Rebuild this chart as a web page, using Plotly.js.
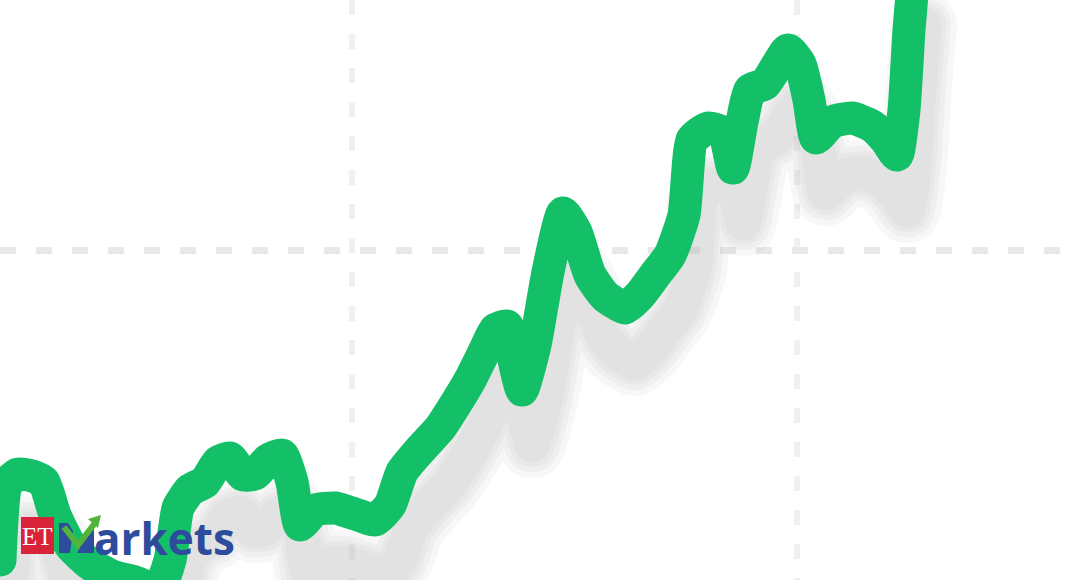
<!DOCTYPE html>
<html>
<head>
<meta charset="utf-8">
<script src="https://cdn.plot.ly/plotly-3.0.1.min.js"></script>
<style>
  html, body { margin: 0; padding: 0; background: #fff; overflow: hidden; }
  #chart { width: 1070px; height: 580px; }
  .scatterlayer path.js-line { stroke-linejoin: round; stroke-linecap: round; }
</style>
</head>
<body>
<div id="chart"></div>
<script>
// session position and price level
var sessions = [0, 6, 18, 32, 44, 55, 70, 90, 112, 135, 158, 170, 178, 190, 205, 218, 230, 243,
	255, 268, 282, 292, 300, 315, 335, 355, 375, 390, 402, 420, 440, 455, 470, 485, 495, 507,
	514, 522, 535, 548, 563, 576, 590, 605, 625, 640, 655, 670, 684, 692, 708, 724, 733, 742,
	750, 765, 788, 800, 809, 816, 832, 852, 872, 886, 897, 904, 909, 914];
var levels = [20, 95, 106, 104, 98, 65, 35, 16, 4, -2, -10, 20, 72, 90, 98, 118, 122, 105,
	106, 120, 125, 98, 55, 70, 72, 66, 60, 75, 108, 130, 152, 175, 200, 230, 250, 254,
	220, 190, 235, 308, 367, 348, 305, 284, 272, 285, 305, 325, 365, 440, 452, 447, 412, 458,
	490, 496, 530, 516, 480, 442, 458, 462, 454, 440, 425, 470, 550, 610];

// dashed guide lines
var gridSessions = [352, 797];
var gridLevels = [330];

var GREEN = '#13bf67';
var SHADOW_DX = 10, SHADOW_DY = 55;
var W = 1070, H = 580;

var traces = [];
// soft grey shadow on the main axes, whose range is shifted
[66, 54, 44, 35].forEach(function (w) {
	traces.push({
		x: sessions, y: levels,
		type: 'scatter', mode: 'lines', hoverinfo: 'skip',
		line: { color: 'rgba(180,180,180,0.1)', width: w, shape: 'spline', smoothing: 0.5 }
	});
});
// the price line itself on an overlay with the true range
traces.push({
	x: sessions, y: levels, xaxis: 'x2', yaxis: 'y2',
	type: 'scatter', mode: 'lines', hoverinfo: 'skip',
	line: { color: GREEN, width: 33, shape: 'spline', smoothing: 0.5 }
});

var hidden = { showgrid: false, zeroline: false, showline: false, showticklabels: false, ticks: '', fixedrange: true };

function px(x) { return x / W; }
function py(y) { return 1 - y / H; }
function path(pts, close) {
	var s = pts.map(function (p, i) { return (i ? 'L' : 'M') + px(p[0]) + ',' + py(p[1]); }).join(' ');
	return close ? s + ' Z' : s;
}

var layout = {
	width: W, height: H,
	margin: { t: 0, b: 0, l: 0, r: 0 },
	paper_bgcolor: '#ffffff',
	plot_bgcolor: '#ffffff',
	showlegend: false,
	xaxis: Object.assign({}, hidden, {
		range: [-SHADOW_DX, W - SHADOW_DX], showgrid: true, tickmode: 'array',
		tickvals: gridSessions.map(function (g) { return g - SHADOW_DX; }),
		gridcolor: '#f0f0f0', gridwidth: 6, griddash: '15px,19px'
	}),
	yaxis: Object.assign({}, hidden, {
		range: [SHADOW_DY, H + SHADOW_DY], showgrid: true, tickmode: 'array',
		tickvals: gridLevels.map(function (g) { return g + SHADOW_DY; }),
		gridcolor: '#e8e8e8', gridwidth: 7, griddash: '16px,20px'
	}),
	xaxis2: Object.assign({}, hidden, { overlaying: 'x', anchor: 'y2', range: [0, W] }),
	yaxis2: Object.assign({}, hidden, { overlaying: 'y', anchor: 'x2', range: [0, H] }),
	shapes: [
		// ET red box
		{ type: 'rect', xref: 'paper', yref: 'paper', layer: 'above',
		  x0: px(21), x1: px(54), y0: py(554), y1: py(517),
		  fillcolor: '#d9233a', line: { width: 0 } },
		// M legs
		{ type: 'path', xref: 'paper', yref: 'paper', layer: 'above',
		  path: path([[59, 553], [59, 523], [68, 523], [73, 531], [70, 553]], true),
		  fillcolor: '#2d4c9c', line: { width: 0 } },
		{ type: 'path', xref: 'paper', yref: 'paper', layer: 'above',
		  path: path([[77, 553], [87, 533], [94, 528], [94, 553]], true),
		  fillcolor: '#2d4c9c', line: { width: 0 } },
		// green tick with arrow
		{ type: 'path', xref: 'paper', yref: 'paper', layer: 'above',
		  path: path([[64, 527], [78, 545], [95, 523]]),
		  line: { color: '#52b53b', width: 6 } },
		{ type: 'path', xref: 'paper', yref: 'paper', layer: 'above',
		  path: path([[101, 515], [88, 519], [98, 528]], true),
		  fillcolor: '#52b53b', line: { width: 0 } }
	],
	annotations: [
		{ xref: 'paper', yref: 'paper', x: px(37.5), y: py(536), xanchor: 'center', yanchor: 'middle',
		  text: 'ET', showarrow: false,
		  font: { family: 'Liberation Serif, DejaVu Serif, serif', size: 25, color: '#ffffff' } },
		{ xref: 'paper', yref: 'paper', x: px(92), y: py(538), xanchor: 'left', yanchor: 'middle',
		  text: 'arkets', showarrow: false,
		  font: { family: 'Open Sans, Noto Sans, sans-serif', size: 44, weight: 700, color: '#2d4c9c' } }
	]
};

Plotly.newPlot('chart', traces, layout, { displayModeBar: false, staticPlot: true });
</script>
</body>
</html>
